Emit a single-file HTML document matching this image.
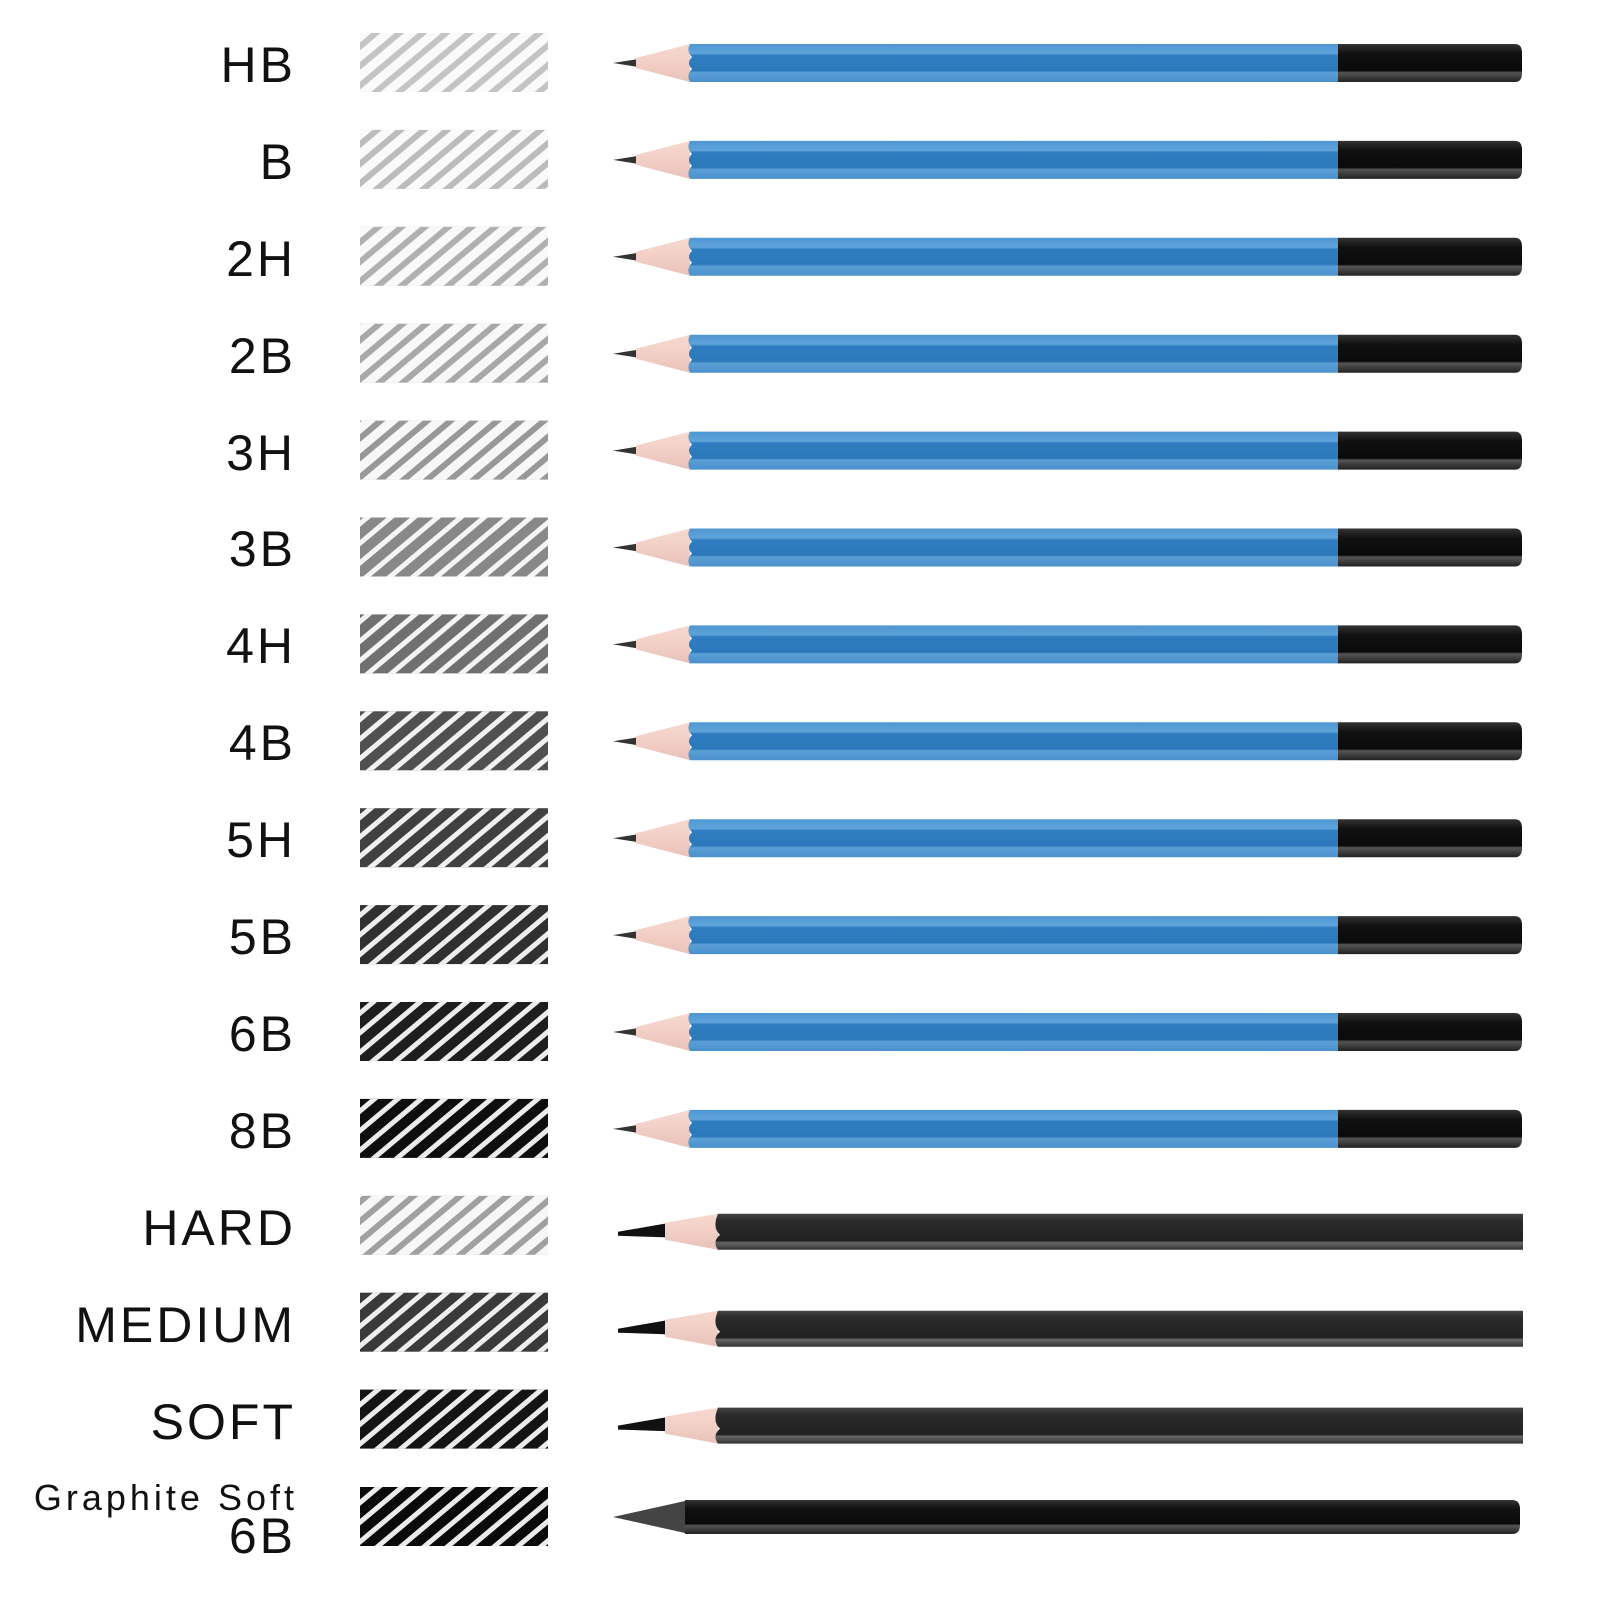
<!DOCTYPE html>
<html><head><meta charset="utf-8"><style>
html,body{margin:0;padding:0;background:#fff;}
svg{display:block;}
text{font-family:"Liberation Sans",sans-serif;fill:#111;}
</style></head><body>
<svg id="s" width="1600" height="1600" viewBox="0 0 1600 1600" xmlns="http://www.w3.org/2000/svg">
<defs>
<linearGradient id="blue" x1="0" y1="0" x2="0" y2="1">
<stop offset="0" stop-color="#4f97d2"/><stop offset="0.25" stop-color="#5fa3da"/><stop offset="0.3" stop-color="#2f7dc0"/><stop offset="0.7" stop-color="#2c78ba"/><stop offset="0.75" stop-color="#5b9fd6"/><stop offset="1" stop-color="#4a90cc"/>
</linearGradient>
<linearGradient id="blk" x1="0" y1="0" x2="0" y2="1">
<stop offset="0" stop-color="#333"/><stop offset="0.25" stop-color="#111"/><stop offset="0.7" stop-color="#0a0a0a"/><stop offset="0.75" stop-color="#555"/><stop offset="1" stop-color="#222"/>
</linearGradient>
<linearGradient id="dk" x1="0" y1="0" x2="0" y2="1">
<stop offset="0" stop-color="#444"/><stop offset="0.2" stop-color="#2a2a2a"/><stop offset="0.75" stop-color="#222"/><stop offset="0.8" stop-color="#666"/><stop offset="1" stop-color="#333"/>
</linearGradient>
<linearGradient id="wood" x1="0" y1="0" x2="0" y2="1">
<stop offset="0" stop-color="#f6d9d0"/><stop offset="0.5" stop-color="#f2cfc6"/><stop offset="1" stop-color="#e8c2ba"/>
</linearGradient>
<pattern id="st" width="15" height="15" patternUnits="userSpaceOnUse" patternTransform="rotate(50)">
<rect width="15" height="15" fill="none"/><rect x="0" y="0" width="5" height="15" fill="#fff"/>
</pattern>
<pattern id="st2" width="15" height="15" patternUnits="userSpaceOnUse" patternTransform="rotate(50)">
<rect width="15" height="15" fill="none"/><rect x="0" y="0" width="9" height="15" fill="#fff"/>
</pattern>
<g id="bp">
<polygon points="613,0 638,-4 638,4" fill="#333"/>
<path d="M636,-5 L690,-19 L690,19 L636,5 Z" fill="url(#wood)"/>
<path d="M690,-19 L1338,-19 L1338,19 L690,19 Q686,12 692,6 Q686,0 692,-6 Q686,-12 690,-19Z" fill="url(#blue)"/>
<path d="M1338,-19 L1515,-19 Q1522,-19 1522,-10 L1522,10 Q1522,19 1515,19 L1338,19Z" fill="url(#blk)"/>
</g>
<g id="kp">
<polygon points="618,0 670,-9 680,6 618,4" fill="#111"/>
<path d="M665,-9 L718,-18 L718,18 L665,8 Z" fill="url(#wood)"/>
<path d="M718,-18 L1523,-18 L1523,18 L718,18 Q712,10 720,3 Q712,-4 718,-18Z" fill="url(#dk)"/>
</g>
</defs>
<g id="rows"></g>
<g font-size="50" text-anchor="end" letter-spacing="3">
<text x="296" y="82">HB</text>
<text x="296" y="179">B</text>
<text x="296" y="276">2H</text>
<text x="296" y="373">2B</text>
<text x="296" y="470">3H</text>
<text x="296" y="566">3B</text>
<text x="296" y="663">4H</text>
<text x="296" y="760">4B</text>
<text x="296" y="857">5H</text>
<text x="296" y="954">5B</text>
<text x="296" y="1051">6B</text>
<text x="296" y="1148">8B</text>
<text x="296" y="1245">HARD</text>
<text x="296" y="1342">MEDIUM</text>
<text x="296" y="1439">SOFT</text>
<text x="296" y="1553">6B</text>
</g>
<text x="298" y="1510" font-size="36" text-anchor="end" letter-spacing="4">Graphite Soft</text>
</svg>
<script>
var g=document.getElementById('rows');
var cols=['#c4c4c4','#bcbcbc','#b0b0b0','#a8a8a8','#989898','#888888','#707070','#505050','#404040','#303030','#1e1e1e','#0e0e0e','#a0a0a0','#3a3a3a','#141414','#0a0a0a'];
var h='';
for(var i=0;i<16;i++){
 var cy=63+96.9*i; if(i==15) cy=1517;
 var pat=(i<5||i==12)?'st2':'st';
 h+='<rect x="360" y="'+(cy-30)+'" width="188" height="59" fill="'+cols[i]+'"/>';
 h+='<rect x="360" y="'+(cy-30)+'" width="188" height="59" fill="url(#'+pat+')" opacity="0.92"/>';
 if(i<12) h+='<use href="#bp" transform="translate(0,'+cy+')"/>';
 else if(i<15) h+='<use href="#kp" transform="translate(0,'+(cy+6)+')"/>';
 else h+='<polygon points="613,'+cy+' 685,'+(cy-16)+' 685,'+(cy+16)+'" fill="#444"/><path d="M685,'+(cy-17)+' L1512,'+(cy-17)+' Q1520,'+(cy-17)+' 1520,'+(cy-8)+' L1520,'+(cy+8)+' Q1520,'+(cy+17)+' 1512,'+(cy+17)+' L685,'+(cy+17)+'Z" fill="url(#blk)"/>';
}
g.innerHTML=h;
</script>
</body></html>
